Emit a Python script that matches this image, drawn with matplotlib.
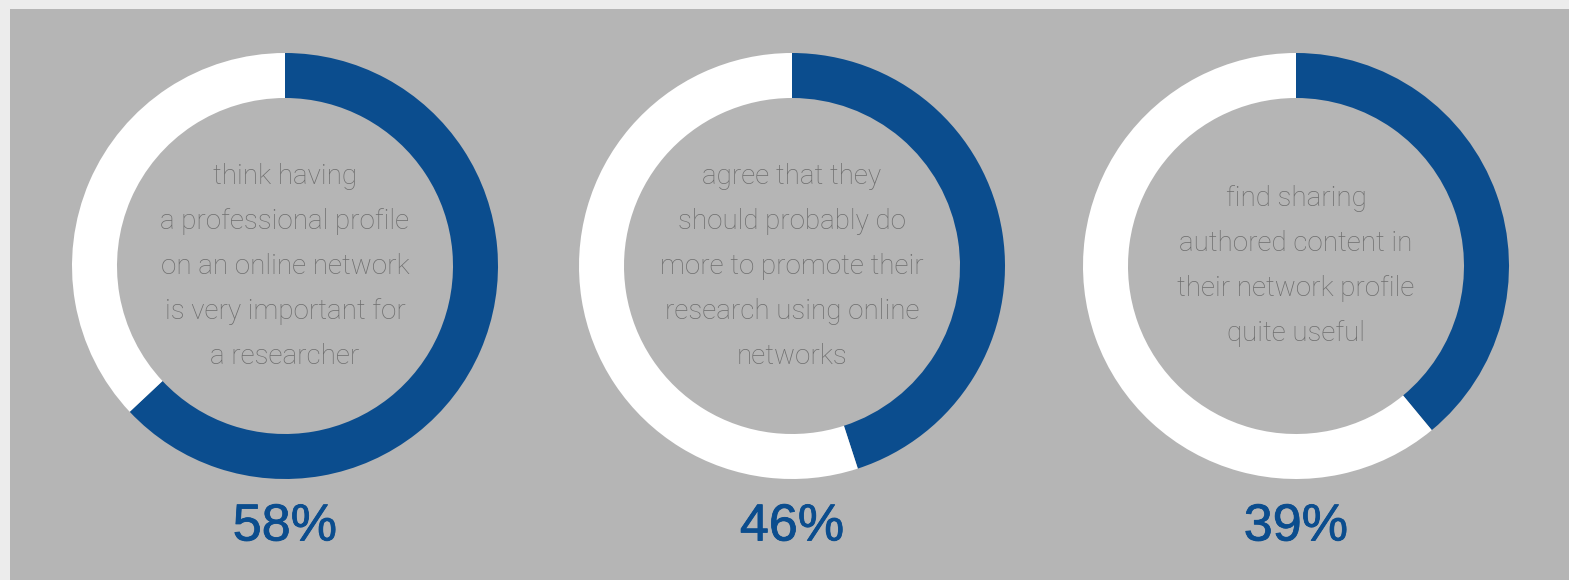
import matplotlib.pyplot as plt
import matplotlib.patheffects as pe
from matplotlib.patches import Rectangle

W, H = 1569, 580

# printed values, and the arc share actually drawn in the picture
labels = ["58%", "46%", "39%"]
arc_share = [63, 45, 39]
captions = [
    ["think having", "a professional profile", "on an online network",
     "is very important for", "a researcher"],
    ["agree that they", "should probably do", "more to promote their",
     "research using online", "networks"],
    ["find sharing", "authored content in", "their network profile",
     "quite useful"],
]

blue = "#0b4d8e"
panel = "#b5b5b5"
textgray = "#6e6e6e"

fig = plt.figure(figsize=(W / 100, H / 100), dpi=100)
fig.patch.set_facecolor("#ececec")

# grey panel
bg = fig.add_axes([0, 0, 1, 1])
bg.set_xlim(0, W)
bg.set_ylim(H, 0)
bg.axis("off")
bg.add_patch(Rectangle((10, 9), W - 10, H - 9, color=panel, lw=0))

centers_x = [285, 792, 1296]
cy = 266
r = 213
ring = 45
step = 45

for cx, p, lab, cap in zip(centers_x, arc_share, labels, captions):
    ax = fig.add_axes([(cx - r) / W, 1 - (cy + r) / H, 2 * r / W, 2 * r / H])
    ax.pie([p, 100 - p], colors=[blue, "white"], startangle=90,
           counterclock=False, radius=1,
           wedgeprops=dict(width=ring / r, linewidth=0))
    ax.set_xlim(-1, 1)
    ax.set_ylim(-1, 1)
    ax.set_aspect("equal")
    ax.axis("off")
    n = len(cap)
    for i, line in enumerate(cap):
        off = ((n - 1) / 2 - i) * step / r
        ax.text(0, off, line, ha="center", va="center", fontsize=20,
                color=textgray, family="Roboto", fontweight="light")
    ax.text(0, (cy - 527) / r, lab, ha="center", va="center", fontsize=37.5,
            color=blue, family="Liberation Sans", clip_on=False,
            path_effects=[pe.withStroke(linewidth=0.6, foreground=blue)])

fig.savefig("out.png", dpi=100, facecolor=fig.get_facecolor())
